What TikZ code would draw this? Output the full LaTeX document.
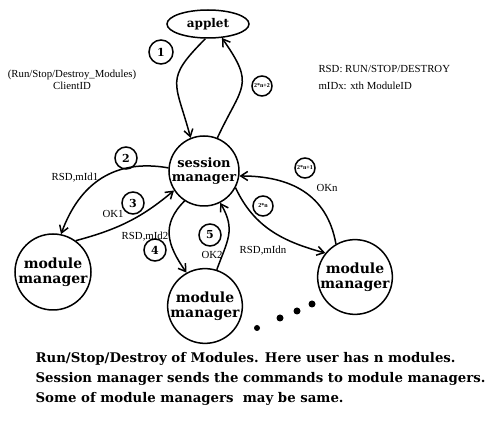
\documentclass[tikz,border=0pt]{standalone}
\usepackage{fontspec}
\setmainfont{Liberation Serif}
\newfontfamily\boldser{DejaVu Serif}[BoldFont={DejaVu Serif Bold}]
\usetikzlibrary{arrows.meta,shapes.geometric}
\begin{document}
\begin{tikzpicture}[x=1pt,y=1pt,
  ent/.style={circle,draw,line width=1.5pt,inner sep=0pt,align=center,
    font=\boldser\bfseries\fontsize{14}{15}\selectfont},
  num/.style={circle,draw,line width=1.5pt,minimum size=22pt,inner sep=0pt,
    font=\boldser\bfseries\fontsize{11}{11}\selectfont},
  snum/.style={num,minimum size=20pt,font=\bfseries\fontsize{6}{6}\selectfont},
  lab/.style={font=\fontsize{10.8}{12}\selectfont},
  arr/.style={-{Straight Barb[length=7pt,width=9pt]},line width=1.5pt},
  dotf/.style={circle,fill,inner sep=0pt}]
\useasboundingbox (0,0) rectangle (499,-422);

% entities
\node[ellipse,draw,line width=1.5pt,minimum width=82pt,minimum height=28pt,inner sep=0pt,
  font=\boldser\bfseries\fontsize{12}{12}\selectfont] (app) at (208,-24) {applet};
\node[ent,minimum size=70pt,font=\boldser\bfseries\fontsize{13}{14}\selectfont] (sm) at (204,-171) {session\\manager};
\node[ent,minimum size=76pt] (m1) at (53,-272) {module\\manager};
\node[ent,minimum size=74pt] (m2) at (205,-306) {module\\manager};
\node[ent,minimum size=74pt] (mn) at (355,-277) {module\\manager};

% connectors
\draw[arr] (app.-100) to[out=-135,in=105,looseness=1.5] (sm.112);
\draw[arr] (sm.68) to[out=65,in=-55,looseness=1.5] (app.-45);
\draw[arr] (sm.175) to[out=170,in=70,looseness=1.1] (m1.78);
\draw[arr] (m1.54) to[out=15,in=220] (sm.213);
\draw[arr] (sm.237) to[out=225,in=125,looseness=1.2] (m2.119);
\draw[arr] (m2.72) to[out=70,in=-60,looseness=1.2] (sm.-63);
\draw[arr] (sm.-28) to[out=-65,in=165] (mn.141);
\draw[arr] (mn.120) to[out=100,in=0,looseness=1.1] (sm.-8);

% step numbers
\node[num,minimum size=24pt] (n1) at (161,-52) {1};
\node[snum] (n2n2) at (262,-86) {2*n+2};
\node[num] (n2) at (126,-158) {2};
\node[num] (n3) at (133,-203) {3};
\node[num] (n4) at (155,-250) {4};
\node[num] (n5) at (210,-235) {5};
\node[snum] (n2n1) at (305,-168) {2*n+1};
\node[snum] (n2n) at (263,-206) {2*n};

% labels
\node[lab,align=center] (cid) at (72,-80) {(Run/Stop/Destroy\_Modules)\\ClientID};
\node[lab,anchor=west] (rsd) at (315,-69) {RSD: RUN/STOP/DESTROY};
\node[lab,anchor=west] (mid) at (315,-86) {mIDx: xth ModuleID};
\node[lab] (l1) at (75,-178) {RSD,mId1};
\node[lab] (l2) at (113,-214) {OK1};
\node[lab] (l3) at (145,-237) {RSD,mId2};
\node[lab] (l4) at (212,-255) {OK2};
\node[lab] (l5) at (263,-251) {RSD,mIdn};
\node[lab] (l6) at (327,-188) {OKn};

% dots
\node[dotf,minimum size=6pt] (d1) at (257,-328) {};
\node[dotf,minimum size=7pt] (d2) at (280,-318) {};
\node[dotf,minimum size=7pt] (d3) at (297,-311) {};
\node[dotf,minimum size=7pt] (d4) at (312,-304) {};

% caption
\node[anchor=west,align=left,font=\boldser\bfseries\fontsize{13.3}{20}\selectfont] (cap) at (32,-379)
 {Run/Stop/Destroy of Modules. Here user has n modules.\\
  Session manager sends the commands to module managers.\\
  Some of module managers\ \ may be same.};
\end{tikzpicture}
\end{document}
